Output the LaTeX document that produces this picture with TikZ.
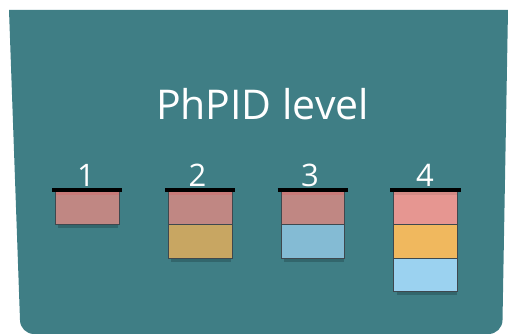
\documentclass[tikz,border=0pt]{standalone}
\usepackage{fontspec}
\setmainfont{Open Sans}
\definecolor{panel}{RGB}{63,126,133}
\definecolor{panelshadow}{RGB}{50,102,108}
\definecolor{edge}{RGB}{62,72,78}
\definecolor{rosemuted}{RGB}{192,135,131}
\definecolor{rosestrip}{RGB}{200,122,120}
\definecolor{ochre}{RGB}{200,166,98}
\definecolor{skymuted}{RGB}{132,187,212}
\definecolor{rosebright}{RGB}{230,150,145}
\definecolor{orangebright}{RGB}{240,184,94}
\definecolor{skybright}{RGB}{155,210,240}
\begin{document}
\begin{tikzpicture}[x=1pt,y=1pt,
  cell/.style={draw=edge,line width=0.9pt},
  capbar/.style={line width=4pt,black},
  lvl/.style={text=white,font=\fontsize{31}{31}\selectfont,anchor=base},
  title/.style={text=white,font=\fontsize{41}{41}\selectfont,anchor=base}]
\useasboundingbox (0,0) rectangle (508,334);
% teal panel with rounded lower corners
\fill[panel] (9,324) -- (508,324) -- (502.5,14) arc(0:-90:14) -- (34,0) arc(270:180:14) -- cycle;
\node[title] (t) at (262.5,214.7) {PhPID level};
% one stack of cells per level: #1 left x, #2 number of cells, #3 colours, #4 top strip colour
\newcommand{\levelstack}[4]{%
  \fill[panelshadow] (#1+3,142.3-33.2*#2-3.5) rectangle (#1+63,142.3-33.2*#2+2);
  \foreach \c [count=\i from 0] in {#3} {
    \ifnum\i<#2
      \filldraw[cell,fill=\c] (#1,142.3-33.2*\i) rectangle (#1+63.7,142.3-33.2*\i-33.2);
    \fi
  }
  \fill[#4] (#1+0.5,142.3) rectangle (#1+63.2,139.3);
  \draw[capbar] (#1-3.3,144.3) -- (#1+67,144.3);
}
\levelstack{55.3}{1}{rosemuted}{rosestrip}
\levelstack{168.3}{2}{rosemuted,ochre}{rosestrip}
\levelstack{281}{2}{rosemuted,skymuted}{rosestrip}
\levelstack{393.7}{3}{rosebright,orangebright,skybright}{rosebright!92!black}
\node[lvl] (n1) at (86,147.3) {1};
\node[lvl] (n2) at (197.5,147.3) {2};
\node[lvl] (n3) at (310,147.3) {3};
\node[lvl] (n4) at (425,147.3) {4};
\end{tikzpicture}
\end{document}
